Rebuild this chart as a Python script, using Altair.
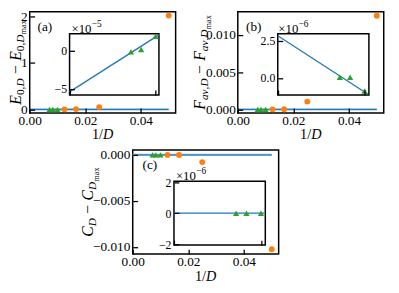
import altair as alt
import pandas as pd

# ---------------- data ----------------
D_circ = [20, 40, 60, 80]
D_tri = [100, 120, 140]
E_circ = [2.02, 0.05, 0.008, 0.002]
E_tri = [1.9e-5, 0.17e-5, -0.13e-5]
F_circ = [0.01255, 0.00105, 0.00003, 0.00001]
F_tri = [-0.88e-6, 0.05e-6, 0.05e-6]
C_circ = [-0.01026, -0.00078, -0.00001, 0.0]
C_tri = [0.0, 0.0, 0.0]

main_fit_x = [0.0, 0.05]
E_main_fit = [0.0, 0.0]
F_main_fit = [0.0, 0.0]
C_main_fit = [0.0, 0.0]
inset_fit_x = [0.0, 0.0104]
E_inset_fit = [-5.4e-5, 2.1e-5]
F_inset_fit = [2.85e-6, -1.1e-6]
C_inset_fit = [0.0, 0.0]

main_xticks = [0.0, 0.02, 0.04]
inset_xticks = [0.0, 0.01]
E_yticks = [0, 1, 2]
F_yticks = [0.0, 0.005, 0.010]
C_yticks = [-0.010, -0.005, 0.0]
E_inset_yticks = [-5e-5, 0.0]
F_inset_yticks = [0.0, 2.5e-6]
C_inset_yticks = [-2e-6, 0.0, 2e-6]

# ---------------- style / layout ----------------
W, H = 390, 284
OX, OY = 8, 8
FONT = "Liberation Serif"
ORANGE = "#ff7f0e"
GREEN = "#2ca02c"
BLUE = "#1f77b4"
TICK = 5


def make_axis(orient, offset, values, fmt=None, expr=None, labels=True, size=13, pad=2):
    kw = dict(orient=orient, offset=offset, values=values, domain=False, grid=False,
              ticks=True, tickColor="black", tickWidth=1.3, tickSize=TICK, labels=labels,
              labelFont=FONT, labelFontSize=size, labelColor="black", labelPadding=pad,
              title="", zindex=1, labelFlush=False, labelOverlap=False)
    if fmt:
        kw["format"] = fmt
    if expr:
        kw["labelExpr"] = expr
    return alt.Axis(**kw)


def panel(box, xd, yd, xticks, yticks, xfmt, yfmt, yexpr, xlabels, circ_y, tri_y,
          fit_x, fit_y, main, lab_size, ypad):
    x0, x1, yb, yt = box
    xs = alt.Scale(domain=xd, range=[x0 - OX, x1 - OX], nice=False, zero=False)
    ys = alt.Scale(domain=yd, range=[yb - OY, yt - OY], nice=False, zero=False)
    xa = make_axis("bottom", (yb - OY) - TICK - H, xticks, fmt=xfmt, labels=xlabels,
                   size=lab_size, pad=1)
    ya = make_axis("left", -((x0 - OX) + TICK), yticks, fmt=yfmt, expr=yexpr,
                   size=lab_size, pad=ypad)
    fdf = pd.DataFrame({"x0": [xd[0]], "x1": [xd[1]], "y0": [yd[0]], "y1": [yd[1]]})
    frame = alt.Chart(fdf).mark_rect(fill="white", stroke="black", strokeWidth=1.5).encode(
        x=alt.X("x0:Q", scale=xs, axis=xa), x2="x1",
        y=alt.Y("y0:Q", scale=ys, axis=ya), y2="y1")
    layers = [frame]
    ldf = pd.DataFrame({"x": fit_x, "y": fit_y})
    enc = dict(x=alt.X("x:Q", scale=xs, axis=None), y=alt.Y("y:Q", scale=ys, axis=None))
    if main:
        layers.append(alt.Chart(ldf).mark_line(color="#8dbbe0", strokeWidth=2.4).encode(**enc))
        layers.append(alt.Chart(ldf).mark_line(color=BLUE, strokeWidth=1.0).encode(**enc))
    else:
        layers.append(alt.Chart(ldf).mark_line(color=BLUE, strokeWidth=1.3).encode(**enc))
    if circ_y is not None:
        cdf = pd.DataFrame({"x": [1 / d for d in D_circ], "y": circ_y})
        layers.append(alt.Chart(cdf).mark_point(shape="circle", filled=True, size=36,
                                                color=ORANGE, opacity=1).encode(**enc))
    tdf = pd.DataFrame({"x": [1 / d for d in D_tri], "y": tri_y})
    layers.append(alt.Chart(tdf).mark_point(shape="triangle-up", filled=True, size=40,
                                            color=GREEN, opacity=1).encode(**enc))
    return layers


MAIN_LAB, INSET_LAB = 13.5, 12
units = []
units += panel((30.1, 178.7, 112.3, 9.3), [0, 0.0525], [-0.076, 2.101], main_xticks, E_yticks,
               ".2f", "d", None, True, E_circ, E_tri, main_fit_x, E_main_fit, True,
               MAIN_LAB, 2.5)
units += panel((70.7, 161.7, 94, 31.7), [0, 0.0104], [-5.81e-5, 2.24e-5], inset_xticks,
               E_inset_yticks, None, None, "format(datum.value*1e5, 'd')", False, None, E_tri,
               inset_fit_x, E_inset_fit, False, INSET_LAB, 3)
units += panel((242, 390.6, 112.3, 9.3), [0, 0.0525], [-0.000474, 0.01308], main_xticks,
               F_yticks, ".2f", ".3f", None, True, F_circ, F_tri, main_fit_x, F_main_fit,
               True, MAIN_LAB, 2.5)
units += panel((282.7, 375.5, 94, 31.7), [0, 0.0105], [-1.147e-6, 2.98e-6], inset_xticks,
               F_inset_yticks, None, None, "format(datum.value*1e6, '.1f')", False, None,
               F_tri, inset_fit_x, F_inset_fit, False, INSET_LAB, 3)
units += panel((135, 283.6, 256, 150), [0, 0.0525], [-0.01078, 0.000534], main_xticks,
               C_yticks, ".2f", ".3f", None, True, C_circ, C_tri, main_fit_x, C_main_fit,
               True, MAIN_LAB, 3)
units += panel((177, 270, 246.8, 181.9), [0, 0.0105], [-2.05e-6, 2.05e-6], inset_xticks,
               C_inset_yticks, None, None, "format(round(datum.value*1e6), 'd')", False, None,
               C_tri, inset_fit_x, C_inset_fit, False, INSET_LAB, 3)

# ---------------- text (titles composed from pieces) ----------------
REG = {"0": 500, "1": 500, "2": 500, "5": 500, "6": 500, ",": 250, ".": 250, "(": 333,
       ")": 333, "a": 444, "b": 500, "c": 444, "m": 778, "x": 500, "/": 278, "−": 564,
       "×": 564}
ITA = {"E": 611, "D": 722, "F": 611, "C": 667, "a": 500, "v": 444}


def tw(t, size, it):
    tab = ITA if it else REG
    return sum(tab.get(ch, 500) for ch in t) / 1000.0 * size


rows = []


def vtitle(segs, cx, cy, fs):
    total = sum(g + tw(t, s, it) for t, s, it, sh, g in segs)
    start = cy + total / 2
    bx = cx + 0.33 * fs
    cum = 0
    for t, s, it, sh, g in segs:
        cum += g
        rows.append(dict(t=t, x=bx + sh - OX, y=start - cum - OY, fs=s, a=270, it=it))
        cum += tw(t, s, it)


def htext(segs, x0, base):
    cum = 0
    for t, s, it, rise, g in segs:
        cum += g
        rows.append(dict(t=t, x=x0 + cum - OX, y=base - rise - OY, fs=s, a=0, it=it))
        cum += tw(t, s, it)


FS, SUB, SS = 16, 11.5, 8.5
S1, S2 = 3.8, 6.0
G = 4.5
vtitle([("E", FS, 1, 0, 0), ("0,", SUB, 0, S1, 0), ("D", SUB, 1, S1, 0),
        ("−", FS, 0, 0, G), ("E", FS, 1, 0, G), ("0,", SUB, 0, S1, 0), ("D", SUB, 1, S1, 0),
        ("max", SS, 0, S2, 0)], 15.5, 60.8, FS)
vtitle([("F", FS, 1, 0, 0), ("av", SUB, 1, S1, 0), (",", SUB, 0, S1, 0), ("D", SUB, 1, S1, 0),
        ("−", FS, 0, 0, G), ("F", FS, 1, 0, G), ("av", SUB, 1, S1, 0), (",", SUB, 0, S1, 0),
        ("D", SUB, 1, S1, 0), ("max", SS, 0, S2, 0)], 203, 60.8, FS)
vtitle([("C", FS, 1, 0, 0), ("D", SUB, 1, S1, 0),
        ("−", FS, 0, 0, G), ("C", FS, 1, 0, G), ("D", SUB, 1, S1, 0),
        ("max", SS, 0, S2, 0)], 89, 203, FS)

XT = 14.5
for cx, cy in [(104.4, 134.5), (316.3, 134.5), (209.3, 278.5)]:
    wtot = tw("1/", XT, 0) + tw("D", XT, 1)
    htext([("1/", XT, 0, 0, 0), ("D", XT, 1, 0, 0)], cx - wtot / 2, cy + 0.33 * XT)

for lab, cx, cy in [("(a)", 45.5, 25.5), ("(b)", 258.3, 25.5), ("(c)", 152.5, 166)]:
    htext([(lab, 13.5, 0, 0, 0)], cx - tw(lab, 13.5, 0) / 2, cy + 3.4)

for x0, base, ex in [(72.7, 30.5, "−5"), (283.3, 30.5, "−6"), (179, 180.3, "−6")]:
    htext([("×10", 13, 0, 0, 0), (ex, 9.5, 0, 5.5, 0.3)], x0, base)

tdf = pd.DataFrame(rows)
for it, style in [(0, "normal"), (1, "italic")]:
    sub = tdf[tdf["it"] == it]
    units.append(
        alt.Chart(sub).mark_text(align="left", baseline="alphabetic", font=FONT,
                                 fontStyle=style, color="black").encode(
            x=alt.X("x:Q", scale=None, axis=None),
            y=alt.Y("y:Q", scale=None, axis=None),
            text="t:N",
            size=alt.Size("fs:Q", scale=None, legend=None),
            angle=alt.Angle("a:Q", scale=None, legend=None)))

chart = alt.layer(*units).resolve_scale(
    x="independent", y="independent").properties(
    width=W, height=H, autosize=alt.AutoSizeParams(type="none"), padding=0
).configure_view(stroke=None)

chart.save("out.html", embed_options={"renderer": "svg", "actions": False})
